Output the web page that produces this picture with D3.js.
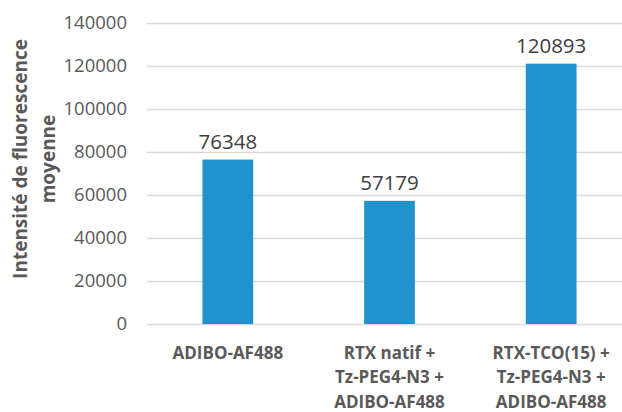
<!DOCTYPE html>
<html><head><meta charset="utf-8">
<script src="https://cdn.jsdelivr.net/npm/d3@7"></script>
<style>html,body{margin:0;padding:0;background:#fff;overflow:hidden}</style>
</head><body>
<svg id="chart" width="622" height="412"></svg>
<script>
const categories = [
  ["ADIBO-AF488"],
  ["RTX natif +", "Tz-PEG4-N3 +", "ADIBO-AF488"],
  ["RTX-TCO(15) +", "Tz-PEG4-N3 +", "ADIBO-AF488"]
];
const values = [76348, 57179, 120893];
const yTicks = [0, 20000, 40000, 60000, 80000, 100000, 120000, 140000];
const yTitle = ["Intensité de fluorescence", "moyenne"];

(function () {
const svg = d3.select("#chart");
const font = "'Open Sans', sans-serif";
const plotLeft = 147, plotRight = 632, plotTop = 22.5, plotBottom = 324;

const x = d3.scaleBand().domain(d3.range(categories.length)).range([plotLeft, plotRight]).padding(0);
const y = d3.scaleLinear().domain([0, 140000]).range([plotBottom, plotTop]);

// grid
svg.append("g").selectAll("line").data(yTicks).join("line")
  .attr("x1", plotLeft).attr("x2", 622)
  .attr("y1", d => Math.round(y(d)) + 0.5).attr("y2", d => Math.round(y(d)) + 0.5)
  .attr("stroke", "#d9d9d9").attr("stroke-width", 1.3);

// y axis labels
const yAxis = d3.axisLeft(y).tickValues(yTicks).tickSize(0).tickPadding(0).tickFormat(d3.format("d"));
const ga = svg.append("g").attr("transform", `translate(127,0)`).call(yAxis);
ga.select(".domain").remove();
ga.selectAll("text").attr("font-family", font).attr("font-size", 18.5).attr("fill", "#595959");

// bars
const bw = x.bandwidth() * 0.314;
svg.append("g").selectAll("rect").data(values).join("rect")
  .attr("x", (d, i) => x(i) + x.bandwidth() / 2 - bw / 2)
  .attr("width", bw)
  .attr("y", d => y(d))
  .attr("height", d => y(0) - y(d))
  .attr("fill", "#2292cf");

// value labels
svg.append("g").selectAll("text").data(values).join("text")
  .attr("x", (d, i) => x(i) + x.bandwidth() / 2)
  .attr("y", d => y(d) - 11)
  .attr("text-anchor", "middle")
  .attr("font-family", font).attr("font-size", 20.5).attr("fill", "#404040")
  .text(d => d);

// x labels
const xl = svg.append("g").selectAll("text").data(categories).join("text")
  .attr("text-anchor", "middle")
  .attr("font-family", font).attr("font-size", 17).attr("font-weight", "bold").attr("fill", "#595959");
xl.each(function(lines, i) {
  d3.select(this).selectAll("tspan").data(lines).join("tspan")
    .attr("x", x(i) + x.bandwidth() / 2)
    .attr("y", (l, j) => 358.5 + j * 24.5)
    .text(l => l);
});

// y title
const yt = svg.append("text")
  .attr("transform", "translate(0,159) rotate(-90)")
  .attr("text-anchor", "middle")
  .attr("font-family", font).attr("font-size", 19).attr("font-weight", "bold").attr("fill", "#595959");
yt.selectAll("tspan").data(yTitle).join("tspan")
  .attr("x", 0).attr("y", (d, j) => 26.5 + j * 28)
  .text(d => d);
})();
</script>
</body></html>
